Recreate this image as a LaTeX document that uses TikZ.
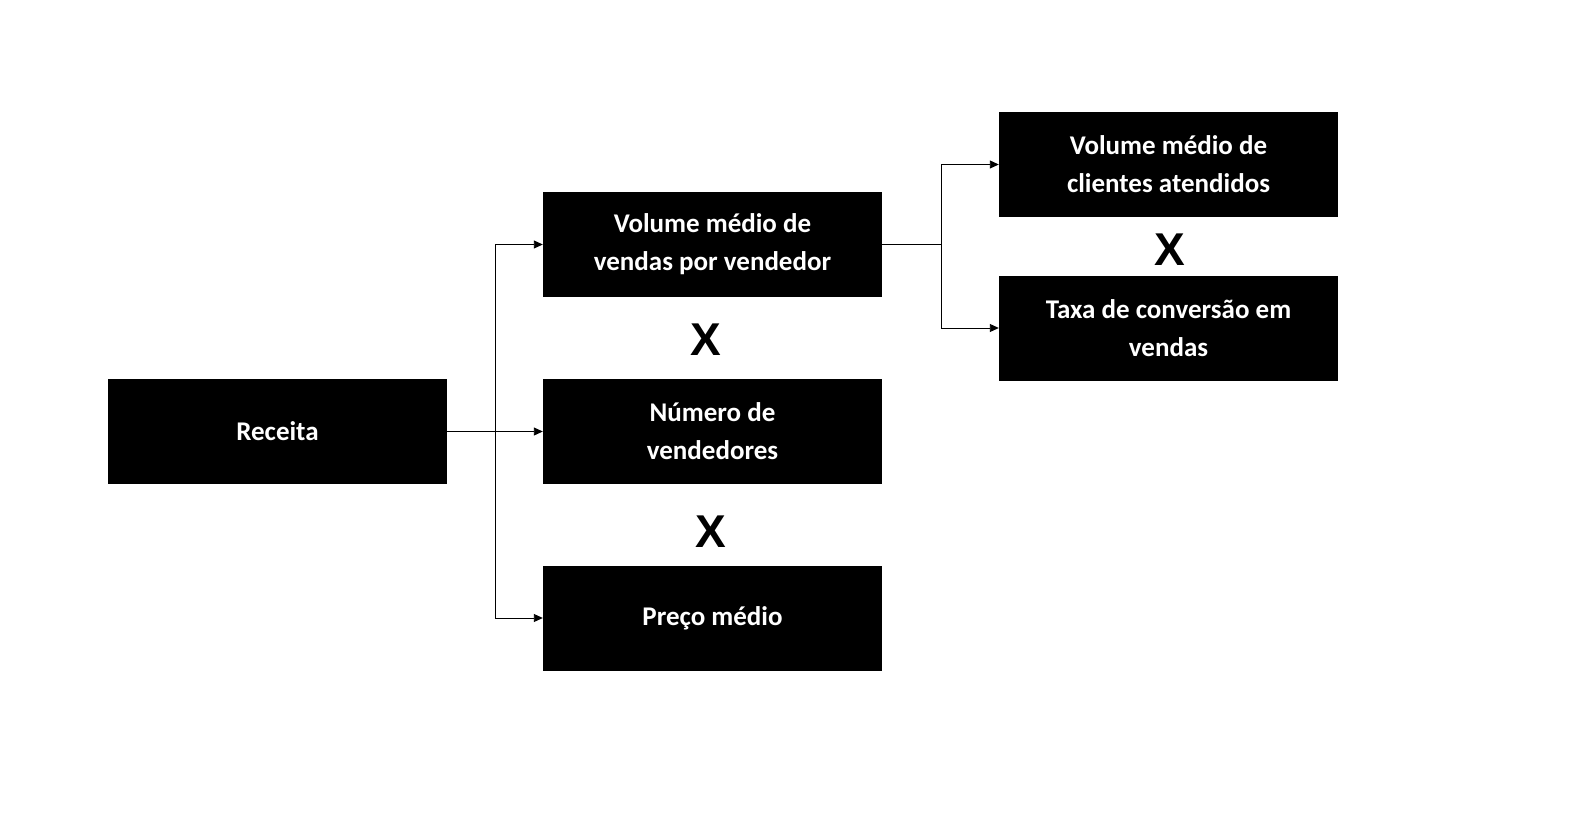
\documentclass[tikz,border=0pt]{standalone}
\usepackage{fontspec}
\setmainfont{Carlito}
\newfontfamily\xfont{Liberation Sans}
\usetikzlibrary{arrows.meta}
\begin{document}
\begin{tikzpicture}[x=1pt,y=-1pt,
 box/.style={fill=black,text=white,minimum width=339pt,minimum height=105pt,inner sep=0pt,align=center,font=\fontsize{27}{38}\selectfont\bfseries},
 mul/.style={font=\xfont\fontsize{46}{46}\selectfont\bfseries},
 conn/.style={draw=black,line width=0.9pt,-{Triangle[length=9pt,width=8pt]}}]
\useasboundingbox (0,0) rectangle (1580,813);
\node[box] (rec) at (277.5,431.5) {Receita};
\node[box] (vol) at (712.5,244.5) {Volume médio de\\vendas por vendedor};
\node[box] (num) at (712.5,431.5) {Número de\\vendedores};
\node[box] (pre) at (712.5,618) {Preço médio};
\node[box] (cli) at (1168.5,164.5) {Volume médio de\\clientes atendidos};
\node[box] (tax) at (1168.5,328) {Taxa de conversão em\\vendas};
\node[mul] (x1) at (706,340) {X};
\node[mul] (x2) at (711,532) {X};
\node[mul] (x3) at (1170,250) {X};
\coordinate (b1) at (495,431.5);
\coordinate (b2) at (941,244.5);
\draw[line width=0.9pt] (rec.east) -- (b1);
\draw[conn] (b1) |- (vol.west);
\draw[conn] (b1) -- (num.west);
\draw[conn] (b1) |- (pre.west);
\draw[line width=0.9pt] (vol.east) -- (b2);
\draw[conn] (b2) |- (cli.west);
\draw[conn] (b2) |- (tax.west);
\end{tikzpicture}
\end{document}
